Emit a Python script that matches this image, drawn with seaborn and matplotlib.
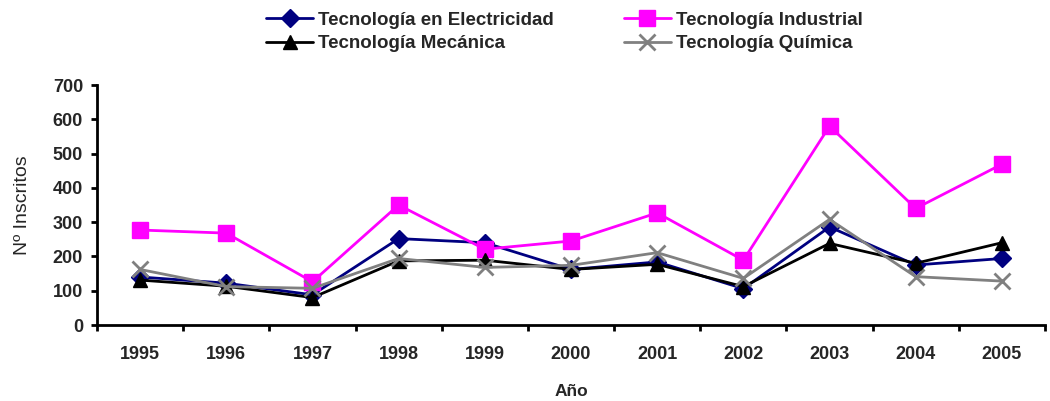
import pandas as pd
import matplotlib
matplotlib.use("Agg")
import matplotlib.pyplot as plt
import seaborn as sns

# Data
years = ["1995", "1996", "1997", "1998", "1999", "2000", "2001", "2002", "2003", "2004", "2005"]
electricidad = [140, 122, 88, 252, 240, 162, 184, 106, 286, 175, 194]
industrial = [277, 268, 126, 350, 221, 245, 327, 189, 580, 340, 469]
mecanica = [131, 113, 80, 187, 189, 162, 177, 112, 238, 180, 240]
quimica = [162, 112, 107, 194, 168, 174, 211, 136, 308, 141, 128]

series = {
    "Tecnología en Electricidad": electricidad,
    "Tecnología Industrial": industrial,
    "Tecnología Mecánica": mecanica,
    "Tecnología Química": quimica,
}

colors = {
    "Tecnología en Electricidad": "#000080",
    "Tecnología Industrial": "#FF00FF",
    "Tecnología Mecánica": "#000000",
    "Tecnología Química": "#808080",
}
markers = {
    "Tecnología en Electricidad": "D",
    "Tecnología Industrial": "s",
    "Tecnología Mecánica": "^",
    "Tecnología Química": "x",
}
msizes = {
    "Tecnología en Electricidad": 9,
    "Tecnología Industrial": 11,
    "Tecnología Mecánica": 10.5,
    "Tecnología Química": 11,
}

rows = []
for name, vals in series.items():
    for i, v in enumerate(vals):
        rows.append({"pos": i, "Año": years[i], "Inscritos": v, "Carrera": name})
df = pd.DataFrame(rows)

sns.set_theme(style="white")
plt.rcParams["font.family"] = ["Liberation Sans", "DejaVu Sans"]

fig = plt.figure(figsize=(10.5, 4.01), dpi=100)
# axes box: x 97..1045 px, y 85..325 px
ax = fig.add_axes([97 / 1050, 76 / 401, 948 / 1050, 240 / 401])

handles = {}
for name in series:
    sub = df[df["Carrera"] == name]
    sns.lineplot(data=sub, x="pos", y="Inscritos", ax=ax, color=colors[name],
                 marker=markers[name], markersize=msizes[name], linewidth=2,
                 markeredgecolor=colors[name], markeredgewidth=2 if markers[name] == "x" else 1,
                 label=name, legend=False)
    handles[name] = ax.lines[-1]

ax.set_xlim(-0.5, len(years) - 0.5)
ax.set_ylim(0, 700)
ax.set_yticks(range(0, 701, 100))
ax.set_xticks([i - 0.5 for i in range(len(years) + 1)])
ax.set_xticklabels([])
ax.set_xticks(range(len(years)), minor=True)
ax.set_xticklabels(years, minor=True)

for s in ["top", "right"]:
    ax.spines[s].set_visible(False)
for s in ["left", "bottom"]:
    ax.spines[s].set_color("black")
    ax.spines[s].set_linewidth(2)

ax.tick_params(axis="both", which="major", direction="out", length=4, width=2,
               color="black", bottom=True, left=True)
ax.tick_params(axis="y", which="major", pad=6)
ax.tick_params(axis="x", which="minor", length=0, pad=15)
for lbl in ax.get_yticklabels() + ax.get_xticklabels(minor=True):
    lbl.set_fontweight("bold")
    lbl.set_fontsize(13)

ax.set_xlabel("Año", fontweight="bold", fontsize=12.5, labelpad=15)
ax.set_ylabel("Nº Inscritos", fontsize=14, labelpad=16)

order = ["Tecnología en Electricidad", "Tecnología Mecánica",
         "Tecnología Industrial", "Tecnología Química"]
fig.legend([handles[n] for n in order], order, ncol=2, loc="center",
           bbox_to_anchor=(0.5375, 1 - 32 / 401), frameon=False,
           prop={"weight": "bold", "size": 13.5}, handlelength=2.5,
           handletextpad=0.25, columnspacing=3.75, labelspacing=0.35,
           borderpad=0)

fig.savefig("out.png", dpi=100)
